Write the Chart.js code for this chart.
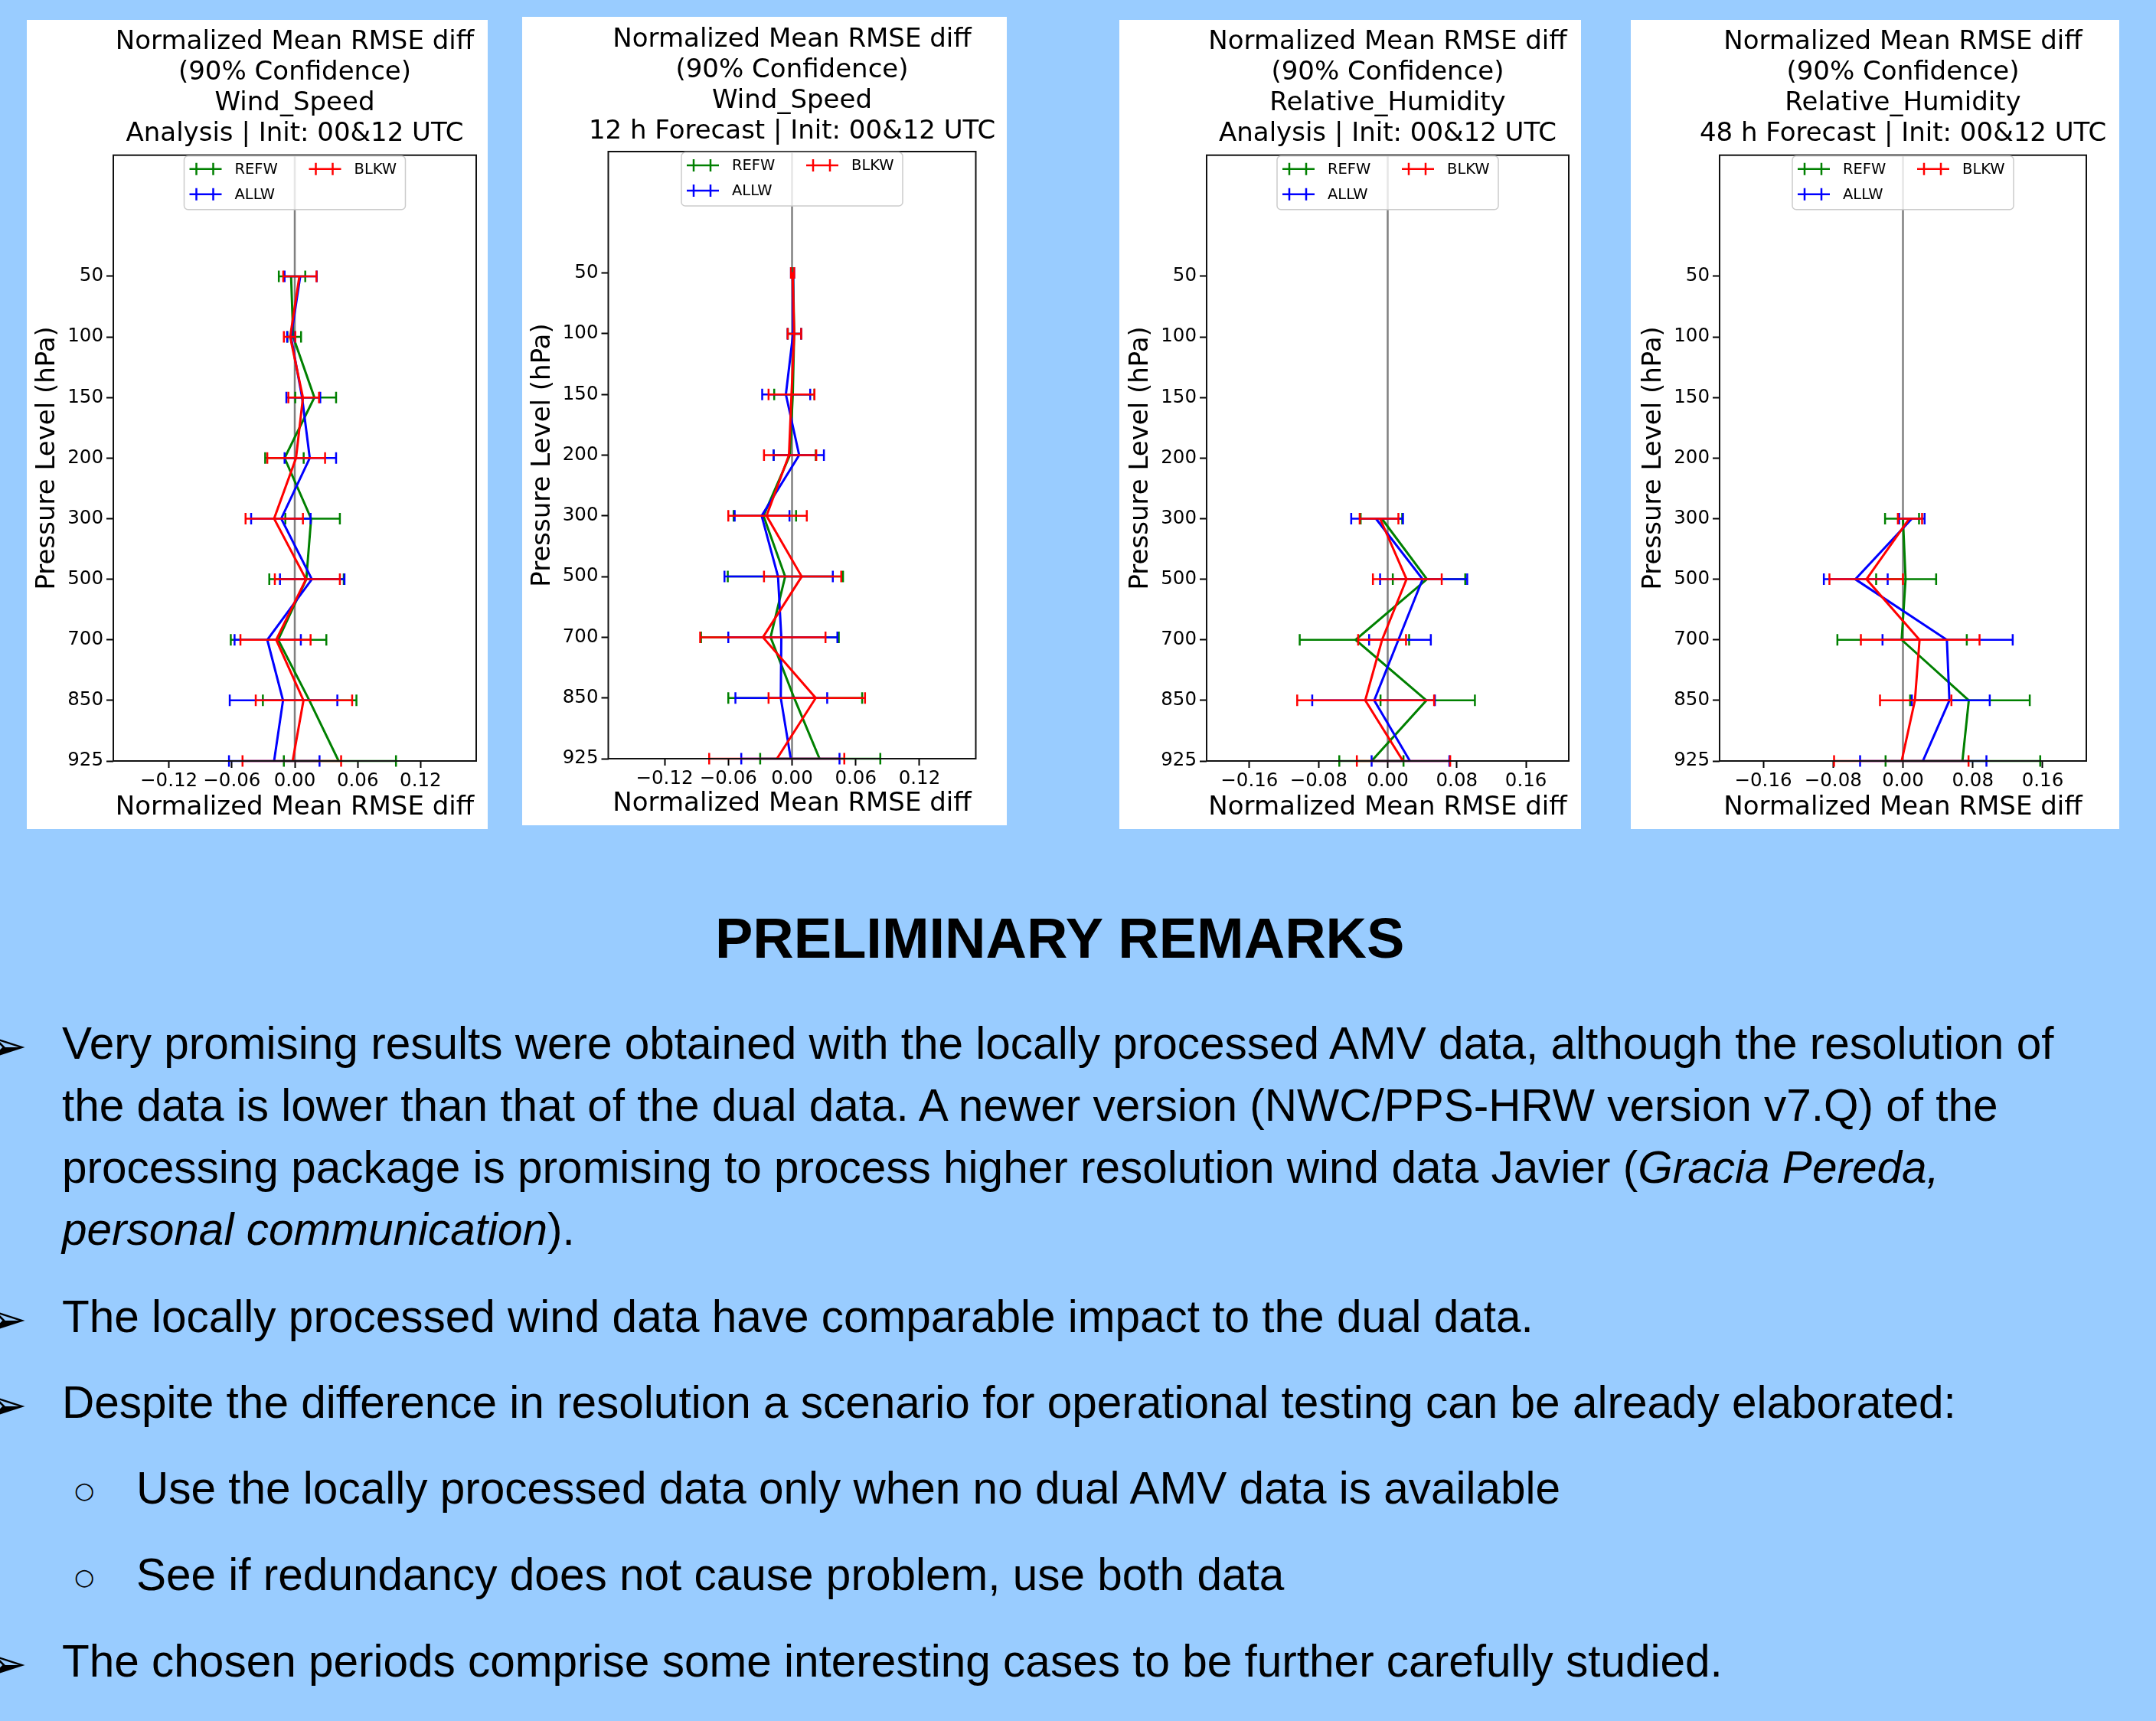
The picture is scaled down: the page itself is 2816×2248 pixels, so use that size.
<!DOCTYPE html>
<html><head><meta charset="utf-8">
<script src="https://cdn.jsdelivr.net/npm/chart.js@4/dist/chart.umd.min.js"></script>
<style>
html,body{margin:0;padding:0;}
body{width:2816px;height:2248px;background:#99ccff;position:relative;overflow:hidden;font-family:"Liberation Sans",Arial,sans-serif;}
canvas{position:absolute;}
.p{position:absolute;background:#fff;}
.t{position:absolute;white-space:nowrap;font-size:58.5px;line-height:1;color:#000;}
.h{position:absolute;white-space:nowrap;font-size:74px;font-weight:bold;line-height:1;color:#000;}
.b{position:absolute;white-space:nowrap;font-family:"DejaVu Sans";font-size:64px;line-height:1;color:#000;}
.s{position:absolute;white-space:nowrap;font-family:"DejaVu Sans";font-size:30px;line-height:1;color:#000;}
</style></head><body>
<div class="p" style="left:35px;top:26px;width:602px;height:1057px"></div>
<div class="p" style="left:682px;top:22px;width:633px;height:1056px"></div>
<div class="p" style="left:1462px;top:26px;width:603px;height:1057px"></div>
<div class="p" style="left:2130px;top:26px;width:638px;height:1057px"></div>
<canvas id="c1" width="700" height="1057" style="left:35px;top:26px"></canvas>
<canvas id="c2" width="705" height="1056" style="left:682px;top:22px"></canvas>
<canvas id="c3" width="701" height="1057" style="left:1462px;top:26px"></canvas>
<canvas id="c4" width="711" height="1057" style="left:2130px;top:26px"></canvas>

<div class="h" style="left:934px;top:1189px">PRELIMINARY REMARKS</div>

<div class="b" style="left:-18px;top:1334px">➢</div>
<div class="t" style="left:81px;top:1334px">Very promising results were obtained with the locally processed AMV data, although the resolution of</div>
<div class="t" style="left:81px;top:1415px">the data is lower than that of the dual data. A newer version (NWC/PPS-HRW version v7.Q) of the</div>
<div class="t" style="left:81px;top:1496px">processing package is promising to process higher resolution wind data Javier (<i>Gracia Pereda,</i></div>
<div class="t" style="left:81px;top:1577px"><i>personal communication</i>).</div>

<div class="b" style="left:-18px;top:1691px">➢</div>
<div class="t" style="left:81px;top:1691px">The locally processed wind data have comparable impact to the dual data.</div>

<div class="b" style="left:-18px;top:1803px">➢</div>
<div class="t" style="left:81px;top:1803px">Despite the difference in resolution a scenario for operational testing can be already elaborated:</div>

<div class="s" style="left:97px;top:1932px">○</div>
<div class="t" style="left:178px;top:1915px">Use the locally processed data only when no dual AMV data is available</div>
<div class="s" style="left:97px;top:2045px">○</div>
<div class="t" style="left:178px;top:2028px">See if redundancy does not cause problem, use both data</div>

<div class="b" style="left:-18px;top:2141px">➢</div>
<div class="t" style="left:81px;top:2141px">The chosen periods comprise some interesting cases to be further carefully studied.</div>

<script>
// ---------- data ----------
const levels = ['50','100','150','200','300','500','700','850','925'];
const xticksWind = [-0.12, -0.06, 0, 0.06, 0.12];
const xticksRh = [-0.16, -0.08, 0, 0.08, 0.16];
const seriesNames = ['REFW', 'ALLW', 'BLKW'];
const seriesColors = ['#008000', '#0000ff', '#ff0000'];

// Panel 1: Wind_Speed, Analysis
const ws_an_refw_mean = [-0.0035, -0.0015, 0.0187, -0.0097, 0.0156, 0.0110, -0.0158, 0.0139, 0.0418];
const ws_an_refw_lo   = [-0.0152, -0.0070, 0.0005, -0.0282, -0.0090, -0.0243, -0.0610, -0.0304, -0.0104];
const ws_an_refw_hi   = [0.0100, 0.0060, 0.0394, 0.0085, 0.0430, 0.0467, 0.0301, 0.0588, 0.0965];
const ws_an_allw_mean = [0.0052, -0.0036, 0.0070, 0.0143, -0.0129, 0.0163, -0.0262, -0.0112, -0.0197];
const ws_an_allw_lo   = [-0.0097, -0.0073, -0.0080, -0.0097, -0.0416, -0.0141, -0.0574, -0.0620, -0.0627];
const ws_an_allw_hi   = [0.0210, 0.0000, 0.0243, 0.0394, 0.0151, 0.0474, 0.0058, 0.0406, 0.0236];
const ws_an_blkw_mean = [0.0044, -0.0044, 0.0078, 0.0012, -0.0197, 0.0107, -0.0177, 0.0083, -0.0020];
const ws_an_blkw_lo   = [-0.0110, -0.0104, -0.0061, -0.0262, -0.0469, -0.0190, -0.0518, -0.0372, -0.0498];
const ws_an_blkw_hi   = [0.0207, 0.0005, 0.0231, 0.0289, 0.0078, 0.0430, 0.0151, 0.0547, 0.0442];

// Panel 2: Wind_Speed, 12 h Forecast
const ws_12_refw_mean = [0.0010, 0.0020, 0.0007, -0.0020, -0.0269, -0.0065, -0.0202, 0.0020, 0.0259];
const ws_12_refw_lo   = [-0.0005, -0.0040, -0.0168, -0.0173, -0.0550, -0.0605, -0.0857, -0.0600, -0.0300];
const ws_12_refw_hi   = [0.0015, 0.0086, 0.0211, 0.0223, 0.0038, 0.0480, 0.0440, 0.0660, 0.0831];
const ws_12_allw_mean = [0.0005, 0.0010, -0.0058, 0.0067, -0.0286, -0.0132, -0.0101, -0.0106, -0.0012];
const ws_12_allw_lo   = [-0.0010, -0.0041, -0.0281, -0.0173, -0.0540, -0.0636, -0.0600, -0.0533, -0.0478];
const ws_12_allw_hi   = [0.0020, 0.0086, 0.0171, 0.0300, -0.0024, 0.0384, 0.0427, 0.0331, 0.0447];
const ws_12_blkw_mean = [0.0005, 0.0020, -0.0005, -0.0029, -0.0240, 0.0091, -0.0274, 0.0223, -0.0142];
const ws_12_blkw_lo   = [-0.0010, -0.0041, -0.0221, -0.0264, -0.0600, -0.0264, -0.0865, -0.0221, -0.0780];
const ws_12_blkw_hi   = [0.0020, 0.0086, 0.0211, 0.0228, 0.0139, 0.0463, 0.0315, 0.0687, 0.0492];

// Panel 3: Relative_Humidity, Analysis
const rh_an_refw_mean = [null, null, null, null, -0.0068, 0.0454, -0.0372, 0.0448, -0.0186];
const rh_an_refw_lo   = [null, null, null, null, -0.0313, 0.0059, -0.1018, -0.0083, -0.0560];
const rh_an_refw_hi   = [null, null, null, null, 0.0168, 0.0897, 0.0248, 0.1009, 0.0183];
const rh_an_allw_mean = [null, null, null, null, -0.0136, 0.0404, 0.0124, -0.0156, 0.0257];
const rh_an_allw_lo   = [null, null, null, null, -0.0422, -0.0088, -0.0215, -0.0873, -0.0186];
const rh_an_allw_hi   = [null, null, null, null, 0.0177, 0.0920, 0.0499, 0.0546, 0.0714];
const rh_an_blkw_mean = [null, null, null, null, -0.0088, 0.0218, -0.0065, -0.0260, 0.0177];
const rh_an_blkw_lo   = [null, null, null, null, -0.0324, -0.0171, -0.0342, -0.1047, -0.0357];
const rh_an_blkw_hi   = [null, null, null, null, 0.0124, 0.0625, 0.0212, 0.0537, 0.0723];

// Panel 4: Relative_Humidity, 48 h Forecast
const rh_48_refw_mean = [null, null, null, null, 0.0000, 0.0030, -0.0015, 0.0754, 0.0681];
const rh_48_refw_lo   = [null, null, null, null, -0.0205, -0.0307, -0.0751, 0.0082, -0.0199];
const rh_48_refw_hi   = [null, null, null, null, 0.0184, 0.0380, 0.0731, 0.1452, 0.1572];
const rh_48_allw_mean = [null, null, null, null, 0.0102, -0.0546, 0.0503, 0.0532, 0.0228];
const rh_48_allw_lo   = [null, null, null, null, -0.0044, -0.0906, -0.0234, 0.0102, -0.0491];
const rh_48_allw_hi   = [null, null, null, null, 0.0248, -0.0175, 0.1257, 0.0994, 0.0956];
const rh_48_blkw_mean = [null, null, null, null, 0.0073, -0.0418, 0.0190, 0.0137, -0.0015];
const rh_48_blkw_lo   = [null, null, null, null, -0.0058, -0.0842, -0.0482, -0.0263, -0.0789];
const rh_48_blkw_hi   = [null, null, null, null, 0.0219, 0.0000, 0.0877, 0.0555, 0.0751];

const titleHead = ['Normalized Mean RMSE diff', '(90% Confidence)'];

// ---------- drawing ----------
Chart.defaults.font.family = "'DejaVu Sans'";
Chart.defaults.color = '#000';

function series(k, mean, lo, hi) {
  const pts = [], los = [], his = [];
  mean.forEach((m, i) => { if (m !== null) { pts.push({x: m, y: i}); los.push(lo[i]); his.push(hi[i]); } });
  return {label: seriesNames[k], data: pts, lo: los, hi: his, borderColor: seriesColors[k],
          backgroundColor: seriesColors[k], borderWidth: 3, pointRadius: 0, tension: 0, fill: false,
          xAxisID: 'x', yAxisID: 'y'};
}

function fmt(v) { return (v < -1e-9 ? '\u2212' : '') + Math.abs(v).toFixed(2); }

const panelPlugin = {
  id: 'panelPlugin',
  beforeDatasetsDraw(chart) {
    const ctx = chart.ctx, ca = chart.chartArea, x0 = chart.scales.x.getPixelForValue(0);
    ctx.save(); ctx.strokeStyle = '#808080'; ctx.lineWidth = 2.5;
    ctx.beginPath(); ctx.moveTo(x0, ca.top); ctx.lineTo(x0, ca.bottom); ctx.stroke(); ctx.restore();
  },
  afterDatasetDraw(chart, args) {
    const ds = chart.data.datasets[args.index], ctx = chart.ctx;
    const xs = chart.scales.x, ys = chart.scales.y;
    ctx.save(); ctx.strokeStyle = ds.borderColor; ctx.lineWidth = 2.5;
    ds.data.forEach((p, i) => {
      const y = ys.getPixelForValue(p.y), a = xs.getPixelForValue(ds.lo[i]), b = xs.getPixelForValue(ds.hi[i]);
      ctx.beginPath(); ctx.moveTo(a, y); ctx.lineTo(b, y);
      ctx.moveTo(a, y - 7.5); ctx.lineTo(a, y + 7.5);
      ctx.moveTo(b, y - 7.5); ctx.lineTo(b, y + 7.5);
      ctx.stroke();
    });
    ctx.restore();
  },
  afterDraw(chart) {
    const ctx = chart.ctx, ca = chart.chartArea;
    ctx.save();
    ctx.strokeStyle = '#111'; ctx.lineWidth = 2;
    ctx.strokeRect(ca.left, ca.top, ca.right - ca.left, ca.bottom - ca.top);
    const w = 289, h = 70, lx = (ca.left + ca.right) / 2 - w / 2, ly = ca.top + 1;
    ctx.beginPath(); ctx.roundRect(lx, ly, w, h, 5);
    ctx.fillStyle = 'rgba(255,255,255,0.8)'; ctx.fill();
    ctx.strokeStyle = '#cccccc'; ctx.lineWidth = 1.5; ctx.stroke();
    const pos = [[0, 0], [0, 1], [1, 0]];
    ctx.font = "19.5px 'DejaVu Sans'"; ctx.textBaseline = 'middle'; ctx.textAlign = 'left';
    pos.forEach(([c, r], k) => {
      const hx = lx + (c ? 163 : 7), tx = lx + (c ? 222 : 66), y = ly + (r ? 50 : 17);
      ctx.strokeStyle = seriesColors[k]; ctx.lineWidth = 2.5;
      ctx.beginPath(); ctx.moveTo(hx, y); ctx.lineTo(hx + 42, y);
      ctx.moveTo(hx + 9, y - 8); ctx.lineTo(hx + 9, y + 8);
      ctx.moveTo(hx + 31, y - 8); ctx.lineTo(hx + 31, y + 8);
      ctx.stroke();
      ctx.fillStyle = '#000'; ctx.fillText(seriesNames[k], tx, y + 1);
    });
    ctx.restore();
  }
};

function makePanel(id, g, titleLines, xt, xlim, sets) {
  const tickGrid = {drawOnChartArea: false, drawTicks: true, tickLength: 9, tickWidth: 2, tickColor: '#000'};
  new Chart(document.getElementById(id), {
    type: 'line',
    data: {datasets: sets.slice().reverse()},
    options: {
      responsive: false, animation: false, events: [],
      layout: {padding: 0},
      plugins: {
        legend: {display: false}, tooltip: {enabled: false},
        title: {display: true, text: titleLines, fullSize: true, color: '#000',
                font: {family: "'DejaVu Sans'", size: 34, weight: 'normal', lineHeight: 40 / 34},
                padding: {top: g.tTop, bottom: g.tBot}}
      },
      scales: {
        x: {type: 'linear', position: 'bottom', min: -xlim, max: xlim,
            afterBuildTicks: a => { a.ticks = xt.map(v => ({value: v})); },
            afterFit: a => { a.height = g.xH; },
            ticks: {autoSkip: false, maxRotation: 0, minRotation: 0, color: '#000', padding: 3, font: {size: 24.5}, callback: fmt},
            grid: tickGrid, border: {display: false},
            title: {display: true, text: 'Normalized Mean RMSE diff', color: '#000', font: {size: 34},
                    padding: {top: 0, bottom: g.xtPad}}},
        y: {type: 'linear', position: 'left', reverse: true, min: -2, max: 8,
            afterBuildTicks: a => { a.ticks = levels.map((_, i) => ({value: i})); },
            afterFit: a => { a.width = g.yW; },
            ticks: {autoSkip: false, color: '#000', padding: 4, font: {size: 24.5}, callback: v => levels[v]},
            grid: tickGrid, border: {display: false},
            title: {display: true, text: 'Pressure Level (hPa)', color: '#000', font: {size: 34},
                    padding: {top: g.ytPad, bottom: 0}}},
        yr: {type: 'linear', position: 'right', min: 0, max: 1,
             afterFit: a => { a.width = g.yW; },
             ticks: {display: false}, grid: {display: false}, border: {display: false}}
      }
    },
    plugins: [panelPlugin]
  });
}

makePanel('c1', {tTop: 9.5, tBot: 7.2, xH: 89, yW: 113, xtPad: 7.6, ytPad: 6.6},
  titleHead.concat(['Wind_Speed', 'Analysis | Init: 00&12 UTC']), xticksWind, 0.173, [
    series(0, ws_an_refw_mean, ws_an_refw_lo, ws_an_refw_hi),
    series(1, ws_an_allw_mean, ws_an_allw_lo, ws_an_allw_hi),
    series(2, ws_an_blkw_mean, ws_an_blkw_lo, ws_an_blkw_hi)]);

makePanel('c2', {tTop: 10.5, tBot: 5.5, xH: 87, yW: 112.5, xtPad: 7.6, ytPad: 6.6},
  titleHead.concat(['Wind_Speed', '12 h Forecast | Init: 00&12 UTC']), xticksWind, 0.173, [
    series(0, ws_12_refw_mean, ws_12_refw_lo, ws_12_refw_hi),
    series(1, ws_12_allw_mean, ws_12_allw_lo, ws_12_allw_hi),
    series(2, ws_12_blkw_mean, ws_12_blkw_lo, ws_12_blkw_hi)]);

makePanel('c3', {tTop: 9.5, tBot: 7.2, xH: 89, yW: 114, xtPad: 7.6, ytPad: 7.6},
  titleHead.concat(['Relative_Humidity', 'Analysis | Init: 00&12 UTC']), xticksRh, 0.2095, [
    series(0, rh_an_refw_mean, rh_an_refw_lo, rh_an_refw_hi),
    series(1, rh_an_allw_mean, rh_an_allw_lo, rh_an_allw_hi),
    series(2, rh_an_blkw_mean, rh_an_blkw_lo, rh_an_blkw_hi)]);

makePanel('c4', {tTop: 9.5, tBot: 7.2, xH: 89, yW: 116, xtPad: 7.6, ytPad: 9.6},
  titleHead.concat(['Relative_Humidity', '48 h Forecast | Init: 00&12 UTC']), xticksRh, 0.21, [
    series(0, rh_48_refw_mean, rh_48_refw_lo, rh_48_refw_hi),
    series(1, rh_48_allw_mean, rh_48_allw_lo, rh_48_allw_hi),
    series(2, rh_48_blkw_mean, rh_48_blkw_lo, rh_48_blkw_hi)]);
</script>
</body></html>
